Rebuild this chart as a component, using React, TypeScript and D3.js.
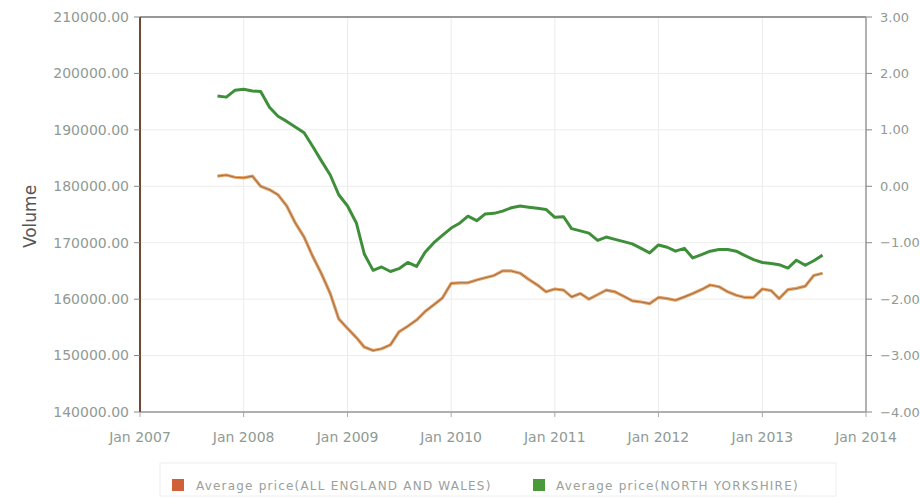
import React from "react";
import * as d3 from "d3";

// Monthly average house prices, Oct 2007 – Aug 2013
const startMonth = new Date(2007, 9, 1);

const englandWales = [
  181800, 182000, 181600, 181500, 181800, 180000, 179400, 178500, 176500, 173500,
  171000, 167500, 164500, 161000, 156500, 154800, 153200, 151500, 150900, 151200,
  151900, 154200, 155200, 156300, 157800, 159000, 160200, 162800, 162900, 162900,
  163400, 163800, 164200, 165000, 165000, 164600, 163500, 162500, 161300, 161800,
  161600, 160400, 161000, 160000, 160800, 161600, 161300, 160500, 159700, 159500,
  159200, 160300, 160100, 159800, 160400, 161000, 161700, 162500, 162200, 161300,
  160700, 160300, 160300, 161800, 161500, 160100, 161700, 161900, 162300, 164200,
  164600,
];

const northYorkshire = [
  196000, 195800, 197000, 197200, 196900, 196800, 194000, 192400, 191500, 190500,
  189500, 187000, 184500, 182000, 178500, 176500, 173500, 168000, 165100, 165700,
  164900, 165400, 166500, 165800, 168300, 170000, 171300, 172600, 173500, 174700,
  173900, 175100, 175200, 175600, 176200, 176500, 176300, 176100, 175900, 174500,
  174600, 172500, 172100, 171700, 170400, 171000, 170600, 170200, 169800, 169000,
  168200, 169600, 169200, 168500, 169000, 167300, 167900, 168500, 168800, 168800,
  168500, 167700, 167000, 166500, 166300, 166100, 165500, 166900, 166000, 166800,
  167800,
];

const leftTicks = [140000, 150000, 160000, 170000, 180000, 190000, 200000, 210000];
const rightTicks = [-4, -3, -2, -1, 0, 1, 2, 3];
const yearTicks = [2007, 2008, 2009, 2010, 2011, 2012, 2013, 2014];
const seriesNames = ["Average price(ALL ENGLAND AND WALES)", "Average price(NORTH YORKSHIRE)"];

const W = 920;
const H = 499;
const plot = { left: 140, right: 866, top: 17, bottom: 412 };

const x = d3
  .scaleTime()
  .domain([new Date(2007, 0, 1), new Date(2014, 0, 1)])
  .range([plot.left, plot.right]);
const yL = d3.scaleLinear().domain([140000, 210000]).range([plot.bottom, plot.top]);
const yR = d3.scaleLinear().domain([-4, 3]).range([plot.bottom, plot.top]);

const monthDate = (i: number) => d3.timeMonth.offset(startMonth, i);
const line = d3
  .line<number>()
  .x((_, i) => x(monthDate(i)))
  .y((v) => yL(v))
  .curve(d3.curveLinear);

const tickColor = "#8f9a94";
const font = "'DejaVu Sans', 'Liberation Sans', sans-serif";

export default function App() {
  return (
    <svg width={W} height={H} style={{ display: "block", position: "absolute", left: 0, top: 0 }}>
      <rect width={W} height={H} fill="#fff" />
      {/* grid */}
      {leftTicks.map((t) => (
        <line key={"h" + t} x1={plot.left} x2={plot.right} y1={yL(t)} y2={yL(t)} stroke="#ececec" />
      ))}
      {yearTicks.map((yr) => (
        <line
          key={"v" + yr}
          x1={x(new Date(yr, 0, 1))}
          x2={x(new Date(yr, 0, 1))}
          y1={plot.top}
          y2={plot.bottom}
          stroke="#ececec"
        />
      ))}
      {/* frame */}
      <line x1={plot.left} x2={plot.right} y1={plot.top} y2={plot.top} stroke="#777" strokeWidth={1.5} />
      <line x1={plot.left} x2={plot.right} y1={plot.bottom} y2={plot.bottom} stroke="#999" strokeWidth={1.5} />
      <line x1={plot.right} x2={plot.right} y1={plot.top} y2={plot.bottom} stroke="#9a9a9a" strokeWidth={1.5} />
      <line x1={plot.left} x2={plot.left} y1={plot.top} y2={plot.bottom} stroke="#6e4a36" strokeWidth={2} />

      {/* left axis */}
      {leftTicks.map((t) => (
        <g key={"l" + t}>
          <line x1={plot.left - 6} x2={plot.left} y1={yL(t)} y2={yL(t)} stroke="#888" />
          <text
            x={plot.left - 11}
            y={yL(t)}
            dy="0.35em"
            textAnchor="end"
            fontFamily={font}
            fontSize={14}
            fill={tickColor}
          >
            {d3.format(".2f")(t)}
          </text>
        </g>
      ))}
      {/* right axis */}
      {rightTicks.map((t) => (
        <g key={"r" + t}>
          <line x1={plot.right} x2={plot.right + 6} y1={yR(t)} y2={yR(t)} stroke="#888" />
          <text
            x={plot.right + 14}
            y={yR(t)}
            dy="0.35em"
            textAnchor="start"
            fontFamily={font}
            fontSize={13}
            fill={tickColor}
          >
            {d3.format(".2f")(t)}
          </text>
        </g>
      ))}
      {/* x axis */}
      {yearTicks.map((yr) => (
        <g key={"x" + yr}>
          <line
            x1={x(new Date(yr, 0, 1))}
            x2={x(new Date(yr, 0, 1))}
            y1={plot.bottom}
            y2={plot.bottom + 5}
            stroke="#aaa"
          />
          <text
            x={x(new Date(yr, 0, 1))}
            y={plot.bottom + 30}
            textAnchor="middle"
            fontFamily={font}
            fontSize={14}
            fill={tickColor}
          >
            {d3.timeFormat("%b %Y")(new Date(yr, 0, 1))}
          </text>
        </g>
      ))}
      <text
        transform={`translate(36,${(plot.top + plot.bottom) / 2 + 2}) rotate(-90)`}
        textAnchor="middle"
        fontFamily={font}
        fontSize={17}
        fill="#555"
      >
        Volume
      </text>

      {/* series */}
      <path d={line(northYorkshire) ?? ""} fill="none" stroke="#3f8f3a" strokeWidth={3} strokeLinejoin="round" />
      <path d={line(englandWales) ?? ""} fill="none" stroke="#e6a265" strokeWidth={3.2} strokeLinejoin="round" />
      <path
        d={line(englandWales) ?? ""}
        fill="none"
        stroke="#8a6446"
        strokeWidth={1.1}
        strokeOpacity={0.75}
        strokeLinejoin="round"
      />

      {/* legend */}
      <rect x={160} y={463} width={676} height={33} fill="none" stroke="#eeeeee" />
      <rect x={172} y={479} width={12} height={12} fill="#d0603a" />
      <text x={196} y={490} fontFamily={font} fontSize={12} letterSpacing={1.2} fill="#9aa09c">
        {seriesNames[0]}
      </text>
      <rect x={533} y={479} width={12} height={12} fill="#4a9a3c" />
      <text x={556} y={490} fontFamily={font} fontSize={12} letterSpacing={1.2} fill="#9aa09c">
        {seriesNames[1]}
      </text>
    </svg>
  );
}
